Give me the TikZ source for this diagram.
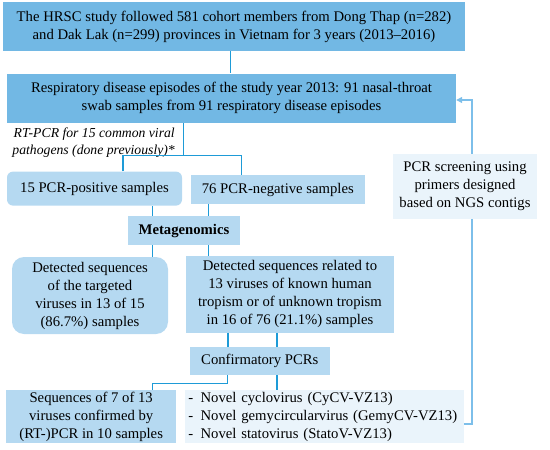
\documentclass[tikz,border=0pt]{standalone}
\usepackage{fontspec}
\setmainfont{Liberation Serif}
\usetikzlibrary{arrows.meta,calc}
\definecolor{darkbox}{HTML}{72B8E4}
\definecolor{lightbox}{HTML}{B5D9F1}
\definecolor{palebox}{HTML}{EAF4FB}
\definecolor{conn}{HTML}{1E9BD7}
\definecolor{conn2}{HTML}{7DBFEA}
\begin{document}
\begin{tikzpicture}[x=1pt,y=-1pt,
  every node/.style={font=\fontsize{14.7}{18}\selectfont, inner sep=0pt, align=center},
  lbox/.style={fill=lightbox},
  pbox/.style={fill=palebox},
  cline/.style={draw=conn, line width=1.2pt},
  aline/.style={draw=conn2, line width=1.2pt}]
\useasboundingbox (0,0) rectangle (550,450);
\node[fill=darkbox, minimum width=461.5pt, minimum height=49pt] (top) at (234,26.5)
  {The HRSC study followed 581 cohort members from Dong Thap (n=282)\\and Dak Lak (n=299) provinces in Vietnam for 3 years (2013--2016)};
\node[fill=darkbox, minimum width=449pt, minimum height=49.3pt] (resp) at (231.5,98.3)
  {Respiratory disease episodes of the study year 2013: 91 nasal-throat\\swab samples from 91 respiratory disease episodes};
\node[anchor=east, align=right, font=\fontsize{13.7}{17}\selectfont\itshape] (rt) at (175,142.5)
  {RT-PCR for 15 common viral\\pathogens (done previously)*};
\node[lbox, rounded corners=6pt, minimum width=175pt, minimum height=34pt] (pos) at (94.5,188.6) {15 PCR-positive samples};
\node[lbox, minimum width=174.4pt, minimum height=29pt] (neg) at (277.8,189.5) {76 PCR-negative samples};
\node[lbox, minimum width=112pt, minimum height=28.5pt, font=\fontsize{14.7}{18}\selectfont\bfseries] (meta) at (184,230.7) {Metagenomics};
\node[lbox, rounded corners=12pt, minimum width=156pt, minimum height=77pt] (ldet) at (90,295.5)
  {Detected sequences\\of the targeted\\viruses in 13 of 15\\(86.7\%) samples};
\node[lbox, minimum width=208pt, minimum height=76.6pt] (rdet) at (290,294.3)
  {Detected sequences related to\\13 viruses of known human\\tropism or of unknown tropism\\in 16 of 76 (21.1\%) samples};
\node[lbox, minimum width=140.5pt, minimum height=28pt] (conf) at (259.8,360.7) {Confirmatory PCRs};
\node[lbox, minimum width=169.7pt, minimum height=53pt] (seq) at (91.2,416.5)
  {Sequences of 7 of 13\\viruses confirmed by\\(RT-)PCR in 10 samples};
\node[pbox, minimum width=278.6pt, minimum height=53pt, align=left, text width=272pt] (novel) at (324.3,416.5)
  {-\enspace Novel cyclovirus (CyCV-VZ13)\\-\enspace Novel gemycircularvirus (GemyCV-VZ13)\\-\enspace Novel statovirus (StatoV-VZ13)};
\node[pbox, minimum width=144pt, minimum height=65pt] (scr) at (465,186.5)
  {PCR screening using\\primers designed\\based on NGS contigs};
% connectors
\draw[cline] (top.south -| 230.5,0) -- (resp.north -| 230.5,0);
\coordinate (split) at (183.5,155.8);
\draw[cline] (resp.south -| split) -- (split);
\draw[cline] (pos.north -| 123,0) -- (123,155.8) -- (241.5,155.8) -- (neg.north -| 241.5,0);
\draw[cline] (pos.south -| 152.7,0) -- (meta.north -| 152.7,0);
\draw[cline] (neg.south -| 208.8,0) -- (meta.north -| 208.8,0);
\draw[cline] (meta.south -| 152.7,0) -- (ldet.north -| 152.7,0);
\draw[cline] (meta.south -| 208.8,0) -- (rdet.north -| 208.8,0);
\draw[cline] (rdet.south -| 228,0) -- (conf.north -| 228,0);
\draw[cline] (rdet.south -| 277,0) -- (conf.north -| 277,0);
\draw[cline] (conf.south -| 227.5,0) -- (227.5,383.5) -- (152.7,383.5) -- (seq.north -| 152.7,0);
\draw[cline] (conf.south -| 277,0) -- (novel.north -| 277,0);
\draw[aline] (novel.east |- 0,424) -- (472,424) -- (scr.south -| 472,0);
\draw[aline, -{Triangle[length=6pt,width=6pt]}] (scr.north -| 472,0) -- (472,100) -- (resp.east |- 0,100);
\end{tikzpicture}
\end{document}
